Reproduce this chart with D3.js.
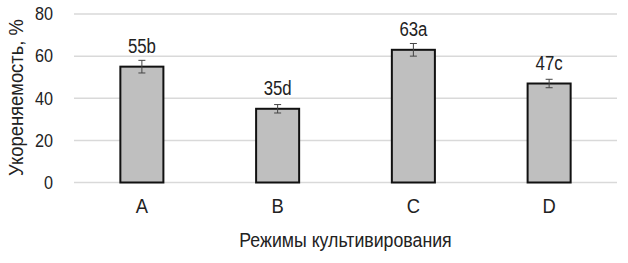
<!DOCTYPE html>
<html>
<head>
<meta charset="utf-8">
<script src="https://cdn.jsdelivr.net/npm/d3@7"></script>
<style>
  body { margin: 0; background: #fff; }
  text { font-family: "Liberation Sans", Arial, sans-serif; fill: #222; }
</style>
</head>
<body>
<div class="container"></div>
<script>
// chart data
var categories = ["A", "B", "C", "D"];
var values = [55, 35, 63, 47];
var errors = [3, 2, 3, 2];
var letters = ["b", "d", "a", "c"];
var yTicks = [0, 20, 40, 60, 80];

const width = 628,
    height = 263,
    margin = {left: 74, right: 11, top: 14, bottom: 80};

const svg = d3.select('.container').append('svg')
    .attr('width', width)
    .attr('height', height);

const x = d3.scaleBand()
    .domain(categories)
    .range([margin.left, width - margin.right])
    .paddingInner(0.683)
    .paddingOuter(0.683 / 2);

const y = d3.scaleLinear()
    .domain([0, 80])
    .range([height - margin.bottom - 0.5, margin.top]);

const cx = c => x(c) + x.bandwidth() / 2;

// the original font is a bit condensed, so squeeze text horizontally
const place = (px, py, sx, rot) => `translate(${px},${py})` + (rot ? ` rotate(${rot})` : '') + ` scale(${sx},1)`;

// gridlines
svg.append('g').selectAll('line').data(yTicks).enter().append('line')
    .attr('x1', margin.left)
    .attr('x2', width - margin.right)
    .attr('y1', d => y(d))
    .attr('y2', d => y(d))
    .attr('stroke', '#d9d9d9')
    .attr('stroke-width', 1.5);

// y tick labels
svg.append('g').selectAll('text').data(yTicks).enter().append('text')
    .attr('transform', d => place(53, y(d), 0.9))
    .attr('dy', '0.35em')
    .attr('text-anchor', 'end')
    .attr('font-size', '18px')
    .text(d => d);

// bars
svg.append('g').selectAll('rect').data(values).enter().append('rect')
    .attr('x', (d, i) => x(categories[i]))
    .attr('y', d => y(d))
    .attr('width', x.bandwidth())
    .attr('height', d => y(0) - y(d))
    .attr('fill', '#bfbfbf')
    .attr('stroke', '#111')
    .attr('stroke-width', 2);

// error bars
const eb = svg.append('g').attr('stroke', '#444').attr('stroke-width', 1);
values.forEach((v, i) => {
    let c = cx(categories[i]);
    eb.append('line').attr('x1', c).attr('x2', c).attr('y1', y(v + errors[i])).attr('y2', y(v - errors[i]));
    eb.append('line').attr('x1', c - 3.5).attr('x2', c + 3.5).attr('y1', y(v + errors[i])).attr('y2', y(v + errors[i]));
    eb.append('line').attr('x1', c - 3.5).attr('x2', c + 3.5).attr('y1', y(v - errors[i])).attr('y2', y(v - errors[i]));
});

// value labels (sit a fixed distance above the bar top)
svg.append('g').selectAll('text').data(values).enter().append('text')
    .attr('transform', (d, i) => place(cx(categories[i]), y(d) - 14, 0.8))
    .attr('text-anchor', 'middle')
    .attr('font-size', '21px')
    .text((d, i) => d + letters[i]);

// x tick labels
svg.append('g').selectAll('text').data(categories).enter().append('text')
    .attr('transform', d => place(cx(d), 212.5, 0.92))
    .attr('text-anchor', 'middle')
    .attr('font-size', '20px')
    .text(d => d);

// axis titles
svg.append('text')
    .attr('transform', place(345.5, 247, 0.91))
    .attr('text-anchor', 'middle')
    .attr('font-size', '19.5px')
    .text('Режимы культивирования');

svg.append('text')
    .attr('transform', place(23, 97.5, 0.92, -90))
    .attr('text-anchor', 'middle')
    .attr('font-size', '20px')
    .text('Укореняемость, %');
</script>
</body>
</html>
